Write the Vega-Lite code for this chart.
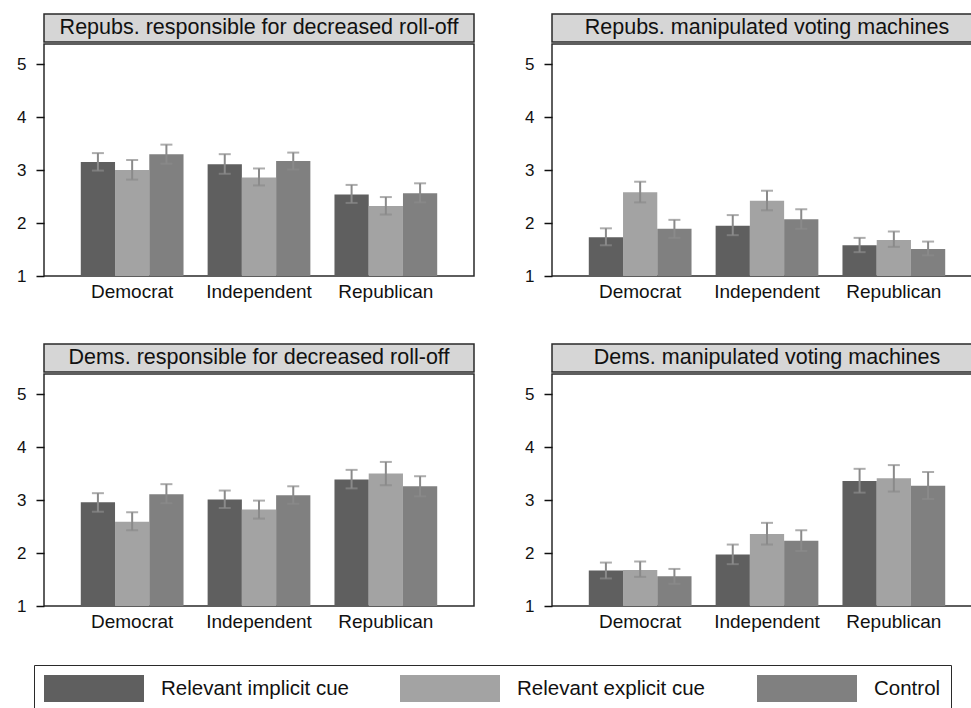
{
  "$schema": "https://vega.github.io/schema/vega-lite/v6.json",
  "padding": {"left": 15, "top": 13, "right": 0, "bottom": 0},
  "background": "white",
  "config": {
    "font": "Liberation Sans",
    "view": {"stroke": "#2a2a2a", "strokeWidth": 1.5},
    "axisX": {"title": null, "ticks": false, "domain": false, "labelPadding": 6, "labelFontSize": 19, "labelAngle": 0, "labelColor": "#111111", "labelFont": "Liberation Sans", "grid": false},
    "axisY": {"title": null, "values": [1, 2, 3, 4, 5], "grid": false, "domain": false, "ticks": true, "tickSize": 8, "tickColor": "#111111", "tickWidth": 1.5, "tickOpacity": 1, "labelAngle": 0, "labelAlign": "right", "labelBaseline": "middle", "labelPadding": 10, "labelFontSize": 17, "labelColor": "#111111", "labelFont": "Liberation Sans"}
  },
  "datasets": {
    "titles": [
      {"panel": "p1", "title": "Repubs. responsible for decreased roll-off"},
      {"panel": "p2", "title": "Repubs. manipulated voting machines"},
      {"panel": "p3", "title": "Dems. responsible for decreased roll-off"},
      {"panel": "p4", "title": "Dems. manipulated voting machines"}
    ],
    "bars": [
      {"panel": "p1", "party": "Democrat", "cond": "Relevant implicit cue", "mean": 3.15, "lo": 2.99, "hi": 3.32},
      {"panel": "p1", "party": "Democrat", "cond": "Relevant explicit cue", "mean": 3.0, "lo": 2.82, "hi": 3.19},
      {"panel": "p1", "party": "Democrat", "cond": "Control", "mean": 3.3, "lo": 3.12, "hi": 3.48},
      {"panel": "p1", "party": "Independent", "cond": "Relevant implicit cue", "mean": 3.11, "lo": 2.93, "hi": 3.3},
      {"panel": "p1", "party": "Independent", "cond": "Relevant explicit cue", "mean": 2.86, "lo": 2.71, "hi": 3.03},
      {"panel": "p1", "party": "Independent", "cond": "Control", "mean": 3.17, "lo": 3.01, "hi": 3.33},
      {"panel": "p1", "party": "Republican", "cond": "Relevant implicit cue", "mean": 2.54, "lo": 2.38, "hi": 2.72},
      {"panel": "p1", "party": "Republican", "cond": "Relevant explicit cue", "mean": 2.32, "lo": 2.16, "hi": 2.49},
      {"panel": "p1", "party": "Republican", "cond": "Control", "mean": 2.56, "lo": 2.39, "hi": 2.75},
      {"panel": "p2", "party": "Democrat", "cond": "Relevant implicit cue", "mean": 1.73, "lo": 1.58, "hi": 1.9},
      {"panel": "p2", "party": "Democrat", "cond": "Relevant explicit cue", "mean": 2.58, "lo": 2.39, "hi": 2.78},
      {"panel": "p2", "party": "Democrat", "cond": "Control", "mean": 1.89, "lo": 1.72, "hi": 2.06},
      {"panel": "p2", "party": "Independent", "cond": "Relevant implicit cue", "mean": 1.95, "lo": 1.77, "hi": 2.15},
      {"panel": "p2", "party": "Independent", "cond": "Relevant explicit cue", "mean": 2.42, "lo": 2.24, "hi": 2.61},
      {"panel": "p2", "party": "Independent", "cond": "Control", "mean": 2.07, "lo": 1.89, "hi": 2.26},
      {"panel": "p2", "party": "Republican", "cond": "Relevant implicit cue", "mean": 1.58, "lo": 1.45, "hi": 1.72},
      {"panel": "p2", "party": "Republican", "cond": "Relevant explicit cue", "mean": 1.68, "lo": 1.55, "hi": 1.84},
      {"panel": "p2", "party": "Republican", "cond": "Control", "mean": 1.51, "lo": 1.39, "hi": 1.65},
      {"panel": "p3", "party": "Democrat", "cond": "Relevant implicit cue", "mean": 2.96, "lo": 2.78, "hi": 3.13},
      {"panel": "p3", "party": "Democrat", "cond": "Relevant explicit cue", "mean": 2.59, "lo": 2.43, "hi": 2.77},
      {"panel": "p3", "party": "Democrat", "cond": "Control", "mean": 3.11, "lo": 2.94, "hi": 3.3},
      {"panel": "p3", "party": "Independent", "cond": "Relevant implicit cue", "mean": 3.01, "lo": 2.85, "hi": 3.18},
      {"panel": "p3", "party": "Independent", "cond": "Relevant explicit cue", "mean": 2.82, "lo": 2.65, "hi": 2.99},
      {"panel": "p3", "party": "Independent", "cond": "Control", "mean": 3.09, "lo": 2.93, "hi": 3.26},
      {"panel": "p3", "party": "Republican", "cond": "Relevant implicit cue", "mean": 3.39, "lo": 3.22, "hi": 3.57},
      {"panel": "p3", "party": "Republican", "cond": "Relevant explicit cue", "mean": 3.5, "lo": 3.28, "hi": 3.72},
      {"panel": "p3", "party": "Republican", "cond": "Control", "mean": 3.26, "lo": 3.07, "hi": 3.45},
      {"panel": "p4", "party": "Democrat", "cond": "Relevant implicit cue", "mean": 1.67, "lo": 1.52, "hi": 1.82},
      {"panel": "p4", "party": "Democrat", "cond": "Relevant explicit cue", "mean": 1.68, "lo": 1.55, "hi": 1.84},
      {"panel": "p4", "party": "Democrat", "cond": "Control", "mean": 1.56, "lo": 1.42, "hi": 1.7},
      {"panel": "p4", "party": "Independent", "cond": "Relevant implicit cue", "mean": 1.97, "lo": 1.79, "hi": 2.16},
      {"panel": "p4", "party": "Independent", "cond": "Relevant explicit cue", "mean": 2.36, "lo": 2.16, "hi": 2.57},
      {"panel": "p4", "party": "Independent", "cond": "Control", "mean": 2.23, "lo": 2.04, "hi": 2.43},
      {"panel": "p4", "party": "Republican", "cond": "Relevant implicit cue", "mean": 3.36, "lo": 3.14, "hi": 3.59},
      {"panel": "p4", "party": "Republican", "cond": "Relevant explicit cue", "mean": 3.41, "lo": 3.16, "hi": 3.66},
      {"panel": "p4", "party": "Republican", "cond": "Control", "mean": 3.27, "lo": 3.02, "hi": 3.53}
    ]
  },
  "vconcat": [
    {
      "hconcat": [
        {
          "vconcat": [
            {"width": 430, "height": 28, "data": {"name": "titles"}, "transform": [{"filter": "datum.panel === 'p1'"}], "view": {"fill": "#d6d6d6", "stroke": "#2a2a2a", "strokeWidth": 1.5}, "mark": {"type": "text", "fontSize": 21.5, "color": "#111111", "font": "Liberation Sans"}, "encoding": {"text": {"field": "title", "type": "nominal"}}},
            {"width": 430, "height": 232, "data": {"name": "bars"}, "transform": [{"filter": "datum.panel === 'p1'"}],
             "encoding": {
               "x": {"field": "party", "type": "nominal", "sort": ["Democrat", "Independent", "Republican"], "scale": {"paddingInner": 0.19, "paddingOuter": 0.29}},
               "xOffset": {"field": "cond", "type": "nominal", "sort": ["Relevant implicit cue", "Relevant explicit cue", "Control"], "scale": {"paddingInner": 0, "paddingOuter": 0}}
             },
             "layer": [
               {"mark": {"type": "bar"}, "encoding": {"y": {"field": "mean", "type": "quantitative", "scale": {"domain": [1, 5.38], "nice": false, "zero": false}}, "y2": {"datum": 1}, "color": {"field": "cond", "type": "nominal", "scale": {"domain": ["Relevant implicit cue", "Relevant explicit cue", "Control"], "range": ["#5f5f5f", "#a3a3a3", "#808080"]}, "legend": {"title": null, "orient": "none", "legendX": -10, "legendY": 651, "direction": "horizontal", "symbolType": "M-1,-0.27L1,-0.27L1,0.27L-1,0.27Z", "symbolSize": 10000, "clipHeight": 27, "symbolStrokeWidth": 0, "symbolOpacity": 1, "labelOffset": 17, "columnPadding": 51, "padding": 10, "strokeColor": "#2a2a2a", "fillColor": "white", "labelFontSize": 20.5, "labelColor": "#111111", "labelFont": "Liberation Sans", "labelLimit": 400}}}},
               {"mark": {"type": "rule", "color": "#8a8a8a", "strokeWidth": 2}, "encoding": {"y": {"field": "lo", "type": "quantitative"}, "y2": {"field": "hi"}}},
               {"mark": {"type": "tick", "color": "#8a8a8a", "size": 12, "thickness": 2}, "encoding": {"y": {"field": "lo", "type": "quantitative"}}},
               {"mark": {"type": "tick", "color": "#8a8a8a", "size": 12, "thickness": 2}, "encoding": {"y": {"field": "hi", "type": "quantitative"}}}
             ]
            }
          ],
          "spacing": 0
        },
        {
          "vconcat": [
            {"width": 430, "height": 28, "data": {"name": "titles"}, "transform": [{"filter": "datum.panel === 'p2'"}], "view": {"fill": "#d6d6d6", "stroke": "#2a2a2a", "strokeWidth": 1.5}, "mark": {"type": "text", "fontSize": 21.5, "color": "#111111", "font": "Liberation Sans"}, "encoding": {"text": {"field": "title", "type": "nominal"}}},
            {"width": 430, "height": 232, "data": {"name": "bars"}, "transform": [{"filter": "datum.panel === 'p2'"}],
             "encoding": {
               "x": {"field": "party", "type": "nominal", "sort": ["Democrat", "Independent", "Republican"], "scale": {"paddingInner": 0.19, "paddingOuter": 0.29}},
               "xOffset": {"field": "cond", "type": "nominal", "sort": ["Relevant implicit cue", "Relevant explicit cue", "Control"], "scale": {"paddingInner": 0, "paddingOuter": 0}}
             },
             "layer": [
               {"mark": {"type": "bar"}, "encoding": {"y": {"field": "mean", "type": "quantitative", "scale": {"domain": [1, 5.38], "nice": false, "zero": false}}, "y2": {"datum": 1}, "color": {"field": "cond", "type": "nominal", "scale": {"domain": ["Relevant implicit cue", "Relevant explicit cue", "Control"], "range": ["#5f5f5f", "#a3a3a3", "#808080"]}, "legend": {"title": null, "orient": "none", "legendX": -10, "legendY": 651, "direction": "horizontal", "symbolType": "M-1,-0.27L1,-0.27L1,0.27L-1,0.27Z", "symbolSize": 10000, "clipHeight": 27, "symbolStrokeWidth": 0, "symbolOpacity": 1, "labelOffset": 17, "columnPadding": 51, "padding": 10, "strokeColor": "#2a2a2a", "fillColor": "white", "labelFontSize": 20.5, "labelColor": "#111111", "labelFont": "Liberation Sans", "labelLimit": 400}}}},
               {"mark": {"type": "rule", "color": "#8a8a8a", "strokeWidth": 2}, "encoding": {"y": {"field": "lo", "type": "quantitative"}, "y2": {"field": "hi"}}},
               {"mark": {"type": "tick", "color": "#8a8a8a", "size": 12, "thickness": 2}, "encoding": {"y": {"field": "lo", "type": "quantitative"}}},
               {"mark": {"type": "tick", "color": "#8a8a8a", "size": 12, "thickness": 2}, "encoding": {"y": {"field": "hi", "type": "quantitative"}}}
             ]
            }
          ],
          "spacing": 0
        }
      ],
      "spacing": 48
    },
    {
      "hconcat": [
        {
          "vconcat": [
            {"width": 430, "height": 28, "data": {"name": "titles"}, "transform": [{"filter": "datum.panel === 'p3'"}], "view": {"fill": "#d6d6d6", "stroke": "#2a2a2a", "strokeWidth": 1.5}, "mark": {"type": "text", "fontSize": 21.5, "color": "#111111", "font": "Liberation Sans"}, "encoding": {"text": {"field": "title", "type": "nominal"}}},
            {"width": 430, "height": 232, "data": {"name": "bars"}, "transform": [{"filter": "datum.panel === 'p3'"}],
             "encoding": {
               "x": {"field": "party", "type": "nominal", "sort": ["Democrat", "Independent", "Republican"], "scale": {"paddingInner": 0.19, "paddingOuter": 0.29}},
               "xOffset": {"field": "cond", "type": "nominal", "sort": ["Relevant implicit cue", "Relevant explicit cue", "Control"], "scale": {"paddingInner": 0, "paddingOuter": 0}}
             },
             "layer": [
               {"mark": {"type": "bar"}, "encoding": {"y": {"field": "mean", "type": "quantitative", "scale": {"domain": [1, 5.38], "nice": false, "zero": false}}, "y2": {"datum": 1}, "color": {"field": "cond", "type": "nominal", "scale": {"domain": ["Relevant implicit cue", "Relevant explicit cue", "Control"], "range": ["#5f5f5f", "#a3a3a3", "#808080"]}, "legend": {"title": null, "orient": "none", "legendX": -10, "legendY": 651, "direction": "horizontal", "symbolType": "M-1,-0.27L1,-0.27L1,0.27L-1,0.27Z", "symbolSize": 10000, "clipHeight": 27, "symbolStrokeWidth": 0, "symbolOpacity": 1, "labelOffset": 17, "columnPadding": 51, "padding": 10, "strokeColor": "#2a2a2a", "fillColor": "white", "labelFontSize": 20.5, "labelColor": "#111111", "labelFont": "Liberation Sans", "labelLimit": 400}}}},
               {"mark": {"type": "rule", "color": "#8a8a8a", "strokeWidth": 2}, "encoding": {"y": {"field": "lo", "type": "quantitative"}, "y2": {"field": "hi"}}},
               {"mark": {"type": "tick", "color": "#8a8a8a", "size": 12, "thickness": 2}, "encoding": {"y": {"field": "lo", "type": "quantitative"}}},
               {"mark": {"type": "tick", "color": "#8a8a8a", "size": 12, "thickness": 2}, "encoding": {"y": {"field": "hi", "type": "quantitative"}}}
             ]
            }
          ],
          "spacing": 0
        },
        {
          "vconcat": [
            {"width": 430, "height": 28, "data": {"name": "titles"}, "transform": [{"filter": "datum.panel === 'p4'"}], "view": {"fill": "#d6d6d6", "stroke": "#2a2a2a", "strokeWidth": 1.5}, "mark": {"type": "text", "fontSize": 21.5, "color": "#111111", "font": "Liberation Sans"}, "encoding": {"text": {"field": "title", "type": "nominal"}}},
            {"width": 430, "height": 232, "data": {"name": "bars"}, "transform": [{"filter": "datum.panel === 'p4'"}],
             "encoding": {
               "x": {"field": "party", "type": "nominal", "sort": ["Democrat", "Independent", "Republican"], "scale": {"paddingInner": 0.19, "paddingOuter": 0.29}},
               "xOffset": {"field": "cond", "type": "nominal", "sort": ["Relevant implicit cue", "Relevant explicit cue", "Control"], "scale": {"paddingInner": 0, "paddingOuter": 0}}
             },
             "layer": [
               {"mark": {"type": "bar"}, "encoding": {"y": {"field": "mean", "type": "quantitative", "scale": {"domain": [1, 5.38], "nice": false, "zero": false}}, "y2": {"datum": 1}, "color": {"field": "cond", "type": "nominal", "scale": {"domain": ["Relevant implicit cue", "Relevant explicit cue", "Control"], "range": ["#5f5f5f", "#a3a3a3", "#808080"]}, "legend": {"title": null, "orient": "none", "legendX": -10, "legendY": 651, "direction": "horizontal", "symbolType": "M-1,-0.27L1,-0.27L1,0.27L-1,0.27Z", "symbolSize": 10000, "clipHeight": 27, "symbolStrokeWidth": 0, "symbolOpacity": 1, "labelOffset": 17, "columnPadding": 51, "padding": 10, "strokeColor": "#2a2a2a", "fillColor": "white", "labelFontSize": 20.5, "labelColor": "#111111", "labelFont": "Liberation Sans", "labelLimit": 400}}}},
               {"mark": {"type": "rule", "color": "#8a8a8a", "strokeWidth": 2}, "encoding": {"y": {"field": "lo", "type": "quantitative"}, "y2": {"field": "hi"}}},
               {"mark": {"type": "tick", "color": "#8a8a8a", "size": 12, "thickness": 2}, "encoding": {"y": {"field": "lo", "type": "quantitative"}}},
               {"mark": {"type": "tick", "color": "#8a8a8a", "size": 12, "thickness": 2}, "encoding": {"y": {"field": "hi", "type": "quantitative"}}}
             ]
            }
          ],
          "spacing": 0
        }
      ],
      "spacing": 48
    }
  ],
  "spacing": 41
}
